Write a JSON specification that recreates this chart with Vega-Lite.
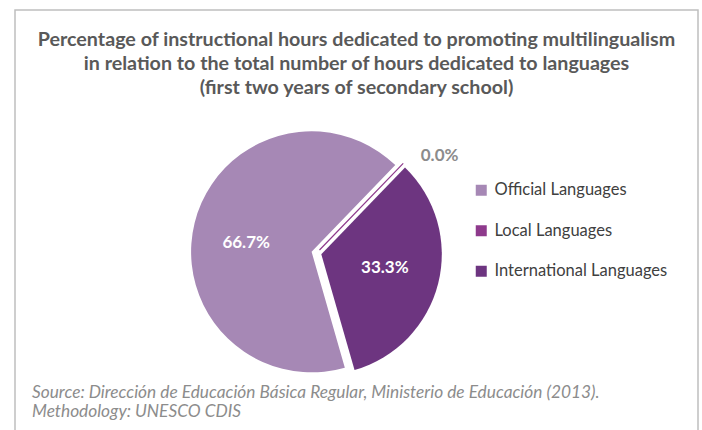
{
  "$schema": "https://vega.github.io/schema/vega-lite/v6.json",
  "width": 683,
  "height": 425,
  "autosize": {"type": "none"},
  "padding": {"left": 15, "top": 10, "right": 4, "bottom": -5},
  "background": "white",
  "view": {"stroke": "#bfbfbf", "strokeWidth": 1.5, "fill": "white"},
  "config": {"font": "Lato"},
  "title": {
    "text": ["Percentage of instructional hours dedicated to promoting multilingualism", "in relation to the total number of hours dedicated to languages", "(first two years of secondary school)"],
    "fontSize": 19.7,
    "fontWeight": "bold",
    "color": "#595959",
    "lineHeight": 24,
    "anchor": "middle",
    "offset": -88
  },
  "data": {"values": [
    {"language": "Official Languages", "share": 0.6667},
    {"language": "Local Languages", "share": 0},
    {"language": "International Languages", "share": 0.3333}
  ]},
  "transform": [
    {"stack": "share", "groupby": [], "sort": [{"field": "share", "order": "ascending"}], "as": ["s0", "s1"]}
  ],
  "encoding": {
    "theta": {"field": "s0", "type": "quantitative", "scale": {"domain": [0, 1], "range": [0.768, 7.051]}},
    "theta2": {"field": "s1"}
  },
  "layer": [
    {
      "transform": [{"filter": "datum.language == 'Official Languages'"}],
      "mark": {"type": "arc", "outerRadius": 120.5, "xOffset": -44.9, "yOffset": 29.3},
      "encoding": {
        "color": {
          "field": "language", "type": "nominal",
          "scale": {"domain": ["Official Languages", "Local Languages", "International Languages"], "range": ["#A688B5", "#8E3A8C", "#6D3580"]},
          "legend": {"orient": "none", "legendX": 458, "legendY": 172, "title": null, "symbolType": "square", "symbolSize": 121, "symbolStrokeWidth": 0, "labelFontSize": 16.5, "labelColor": "#404040", "labelOffset": 5, "labelLimit": 300, "rowPadding": 23.5, "padding": 0}
        }
      }
    },
    {
      "transform": [{"filter": "datum.language == 'International Languages'"}],
      "mark": {"type": "arc", "outerRadius": 120.5, "xOffset": -35.2, "yOffset": 31.7},
      "encoding": {"color": {"field": "language", "type": "nominal"}}
    },
    {
      "transform": [{"filter": "datum.language == 'Local Languages'"}],
      "mark": {"type": "arc", "outerRadius": 120.5, "stroke": "#8E3A8C", "strokeWidth": 1.2, "xOffset": -37, "yOffset": 27.5},
      "encoding": {"color": {"field": "language", "type": "nominal"}}
    },
    {
      "transform": [{"filter": "datum.language == 'Official Languages'"}],
      "mark": {"type": "text", "radius": 66, "thetaOffset": 1.983, "fontSize": 17, "fontWeight": "bold", "color": "white", "xOffset": -44.9, "yOffset": 29.3},
      "encoding": {"text": {"field": "share", "type": "quantitative", "format": ".1%"}, "theta2": null}
    },
    {
      "transform": [{"filter": "datum.language == 'International Languages'"}],
      "mark": {"type": "text", "radius": 65, "thetaOffset": 1.016, "fontSize": 17, "fontWeight": "bold", "color": "white", "xOffset": -35.2, "yOffset": 31.7},
      "encoding": {"text": {"field": "share", "type": "quantitative", "format": ".1%"}, "theta2": null}
    },
    {
      "transform": [{"filter": "datum.language == 'Local Languages'"}],
      "mark": {"type": "text", "radius": 157, "thetaOffset": 0.133, "fontSize": 17, "fontWeight": "bold", "color": "#8c8c8c", "xOffset": -40, "yOffset": 30.5},
      "encoding": {"text": {"field": "share", "type": "quantitative", "format": ".1%"}, "theta2": null}
    },
    {
      "data": {"values": [{"note": ["Source: Dirección de Educación Básica Regular, Ministerio de Educación (2013).", "Methodology: UNESCO CDIS"]}]},
      "transform": [],
      "mark": {"type": "text", "align": "left", "baseline": "middle", "fontSize": 17.3, "fontStyle": "italic", "color": "#8c8c8c", "lineHeight": 19, "x": 17, "y": 382.5},
      "encoding": {"text": {"field": "note"}, "theta": null, "theta2": null}
    }
  ]
}
